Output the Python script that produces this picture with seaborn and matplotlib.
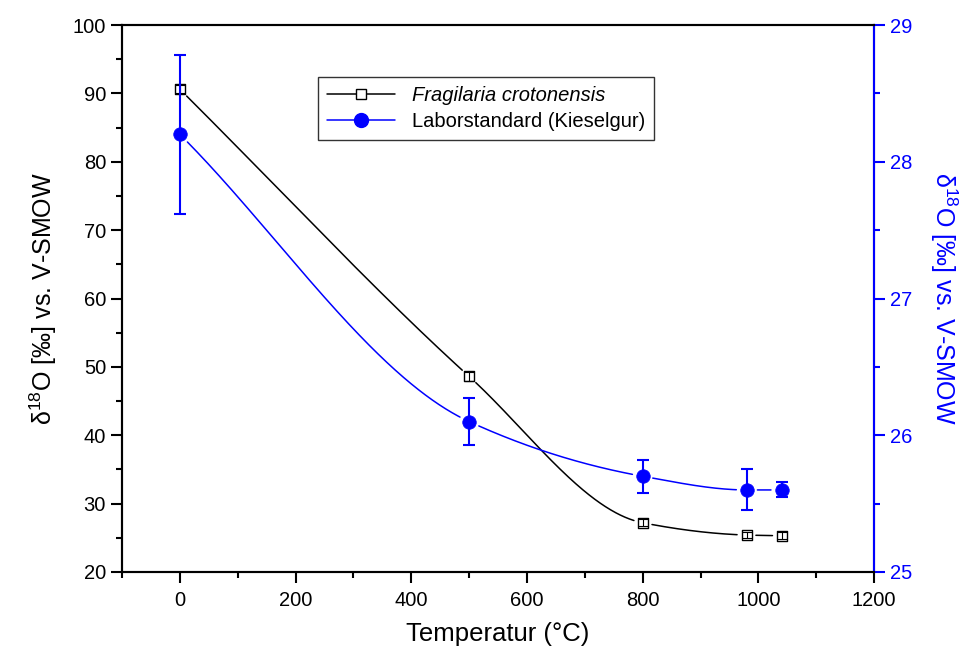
import numpy as np
import pandas as pd
import matplotlib
matplotlib.use("Agg")
import matplotlib.pyplot as plt
from matplotlib.ticker import MultipleLocator
from matplotlib.lines import Line2D
import seaborn as sns

# ---- data ----
temp = [0, 500, 800, 980, 1040]
frag_d18o = [90.6, 48.6, 27.2, 25.4, 25.3]
frag_err = [0.6, 0.6, 0.5, 0.5, 0.5]
lab_d18o = [28.2, 26.1, 25.7, 25.6, 25.6]
lab_err = [0.58, 0.17, 0.12, 0.15, 0.055]

frag_label = "Fragilaria crotonensis"
lab_label = "Laborstandard (Kieselgur)"
x_label = "Temperatur (°C)"
y_label = "δ$^{18}$O [‰] vs. V-SMOW"

BLUE = "#0000FF"

sns.set_style("ticks")
plt.rcParams["font.family"] = ["Liberation Sans", "DejaVu Sans"]
plt.rcParams["mathtext.fontset"] = "custom"
plt.rcParams["mathtext.rm"] = "Liberation Sans"
plt.rcParams["mathtext.it"] = "Liberation Sans:italic"
for k in ("text.color", "axes.labelcolor", "xtick.color", "ytick.color", "axes.edgecolor"):
    plt.rcParams[k] = "black"


def pchip(x, y, xs):
    x = np.asarray(x, float); y = np.asarray(y, float)
    h = np.diff(x); d = np.diff(y) / h
    n = len(x); m = np.zeros(n)
    for k in range(1, n - 1):
        if d[k - 1] * d[k] > 0:
            w1 = 2 * h[k] + h[k - 1]; w2 = h[k] + 2 * h[k - 1]
            m[k] = (w1 + w2) / (w1 / d[k - 1] + w2 / d[k])
    m[0] = d[0]; m[-1] = d[-1]
    out = np.empty_like(xs)
    for i, xv in enumerate(xs):
        k = min(np.searchsorted(x, xv, side="right") - 1, n - 2)
        k = max(k, 0)
        t = (xv - x[k]) / h[k]
        h00 = 2 * t**3 - 3 * t**2 + 1; h10 = t**3 - 2 * t**2 + t
        h01 = -2 * t**3 + 3 * t**2; h11 = t**3 - t**2
        out[i] = h00 * y[k] + h10 * h[k] * m[k] + h01 * y[k + 1] + h11 * h[k] * m[k + 1]
    return out


fig = plt.figure(figsize=(9.74, 6.57), dpi=100)
ax = fig.add_axes([0.1253, 0.1294, 0.7721, 0.8325])
ax2 = ax.twinx()

ax.set_xlim(-100, 1200)
ax.set_ylim(20, 100)
ax2.set_ylim(25, 29)


def gapped_curve(axis, x, y, gap_px=9):
    xs = np.linspace(min(x), max(x), 800)
    ys = pchip(x, y, xs)
    pts = axis.transData.transform(np.column_stack([xs, ys]))
    dpts = axis.transData.transform(np.column_stack([x, y]))
    mask = np.zeros(len(xs), bool)
    for p in dpts:
        mask |= np.hypot(pts[:, 0] - p[0], pts[:, 1] - p[1]) < gap_px
    ys = ys.copy(); ys[mask] = np.nan
    return xs, ys


fig.canvas.draw()

# black curve
xs, ys = gapped_curve(ax, temp, frag_d18o, gap_px=9)
ax.plot(xs, ys, color="black", lw=1.1, zorder=2)
sns.scatterplot(x=temp, y=frag_d18o, ax=ax, marker="s", s=60, color="white",
                edgecolor="black", linewidth=1.0, zorder=4, legend=False)
ax.errorbar(temp, frag_d18o, yerr=frag_err, fmt="none", ecolor="black",
            elinewidth=0.8, capsize=3.5, capthick=0.8, zorder=5)

# blue curve
xs, ys = gapped_curve(ax2, temp, lab_d18o, gap_px=10)
ax2.plot(xs, ys, color=BLUE, lw=1.1, zorder=2)
ax2.errorbar(temp, lab_d18o, yerr=lab_err, fmt="none", ecolor=BLUE,
             elinewidth=1.5, capsize=4.5, capthick=1.5, zorder=3)
sns.scatterplot(x=temp, y=lab_d18o, ax=ax2, marker="o", s=95, color=BLUE,
                edgecolor=BLUE, linewidth=0.5, zorder=4, legend=False)

# axes styling
ax.xaxis.set_major_locator(MultipleLocator(200))
ax.xaxis.set_minor_locator(MultipleLocator(100))
ax.yaxis.set_major_locator(MultipleLocator(10))
ax.yaxis.set_minor_locator(MultipleLocator(5))
ax2.yaxis.set_major_locator(MultipleLocator(1))
ax2.yaxis.set_minor_locator(MultipleLocator(0.5))

for a in (ax, ax2):
    for s in a.spines.values():
        s.set_visible(True)
        s.set_linewidth(1.5)
        s.set_color("black")
ax2.spines["right"].set_color(BLUE)

ax.tick_params(axis="both", which="major", direction="out", length=8, width=1.5,
               labelsize=14.5, top=False, right=False, colors="black")
ax.tick_params(axis="both", which="minor", direction="out", length=4, width=1.5,
               top=False, right=False, colors="black")
ax.tick_params(axis="x", pad=6)
ax2.tick_params(axis="y", which="major", direction="out", length=8, width=1.5,
                labelsize=14.5, colors=BLUE)
ax2.tick_params(axis="y", which="minor", direction="out", length=4, width=1.5,
                colors=BLUE)

ax.set_xlabel(x_label, fontsize=18.5, labelpad=8)
ax.set_ylabel(y_label, fontsize=18, labelpad=10)
ax2.set_ylabel(y_label, fontsize=18, color=BLUE, rotation=270, labelpad=34)

handles = [
    Line2D([], [], color="black", lw=1.1, marker="s", markersize=7,
           markerfacecolor="white", markeredgecolor="black"),
    Line2D([], [], color=BLUE, lw=1.1, marker="o", markersize=10,
           markerfacecolor=BLUE, markeredgecolor=BLUE),
]
leg = ax.legend(handles, [frag_label, lab_label], loc="upper left",
                bbox_to_anchor=(0.247, 0.923), fontsize=14.5, frameon=True,
                fancybox=False, edgecolor="black", handlelength=3.4,
                borderpad=0.45, labelspacing=0.35, handletextpad=0.8)
leg.get_frame().set_linewidth(1.0)
leg.get_texts()[0].set_fontstyle("italic")

fig.savefig("out.png", dpi=100)
